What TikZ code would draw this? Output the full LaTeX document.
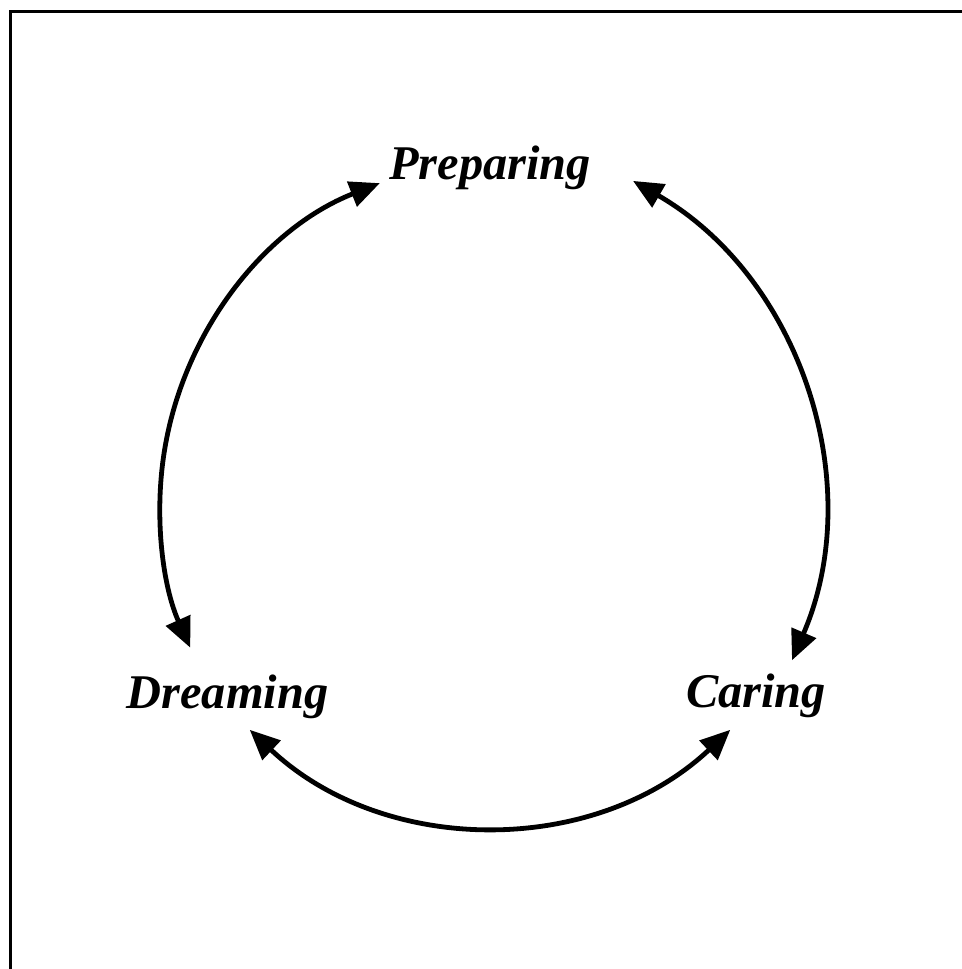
\documentclass[tikz,border=0pt]{standalone}
\usepackage{fontspec}
\setmainfont{Liberation Serif}
\usetikzlibrary{arrows.meta,calc}
\begin{document}
\begin{tikzpicture}[x=0.5pt,y=0.5pt,
  label/.style={font=\fontsize{24.2}{28}\selectfont\bfseries\itshape, anchor=base, inner sep=0pt},
  cyc/.style={line width=2.4pt, {Triangle[length=15pt,width=13pt]}-{Triangle[length=15pt,width=13pt]}},
  frame/.style={line width=1.5pt}]
\useasboundingbox (0,0) rectangle (962,969);
% frame (top and left edges only)
\coordinate (fbl) at (10,0);
\coordinate (ftl) at (10,957.5);
\coordinate (ftr) at (962,957.5);
\draw[frame] (fbl) -- (ftl) -- (ftr);
% labels
\node[label] (prep) at (490,789) {Preparing};
\node[label] (dream) at (227.5,260) {Dreaming};
\node[label] (care) at (756,261) {Caring};
% arc centres
\coordinate (lc) at (507,463);
\coordinate (rc) at (443,459);
\coordinate (bc) at (490,495);
% arc ends
\coordinate (l1) at ($(lc)+(111.5:173.5pt)$);
\coordinate (r1) at ($(rc)+(60:190pt)$);
\coordinate (b1) at ($(bc)+(226.8:175.5pt)$);
% arcs
\draw[cyc] (l1) arc[start angle=111.5, end angle=204.1, radius=173.5pt];
\draw[cyc] (r1) arc[start angle=60, end angle=-23.3, radius=190pt];
\draw[cyc] (b1) arc[start angle=226.8, end angle=313.2, radius=175.5pt];
\end{tikzpicture}
\end{document}
